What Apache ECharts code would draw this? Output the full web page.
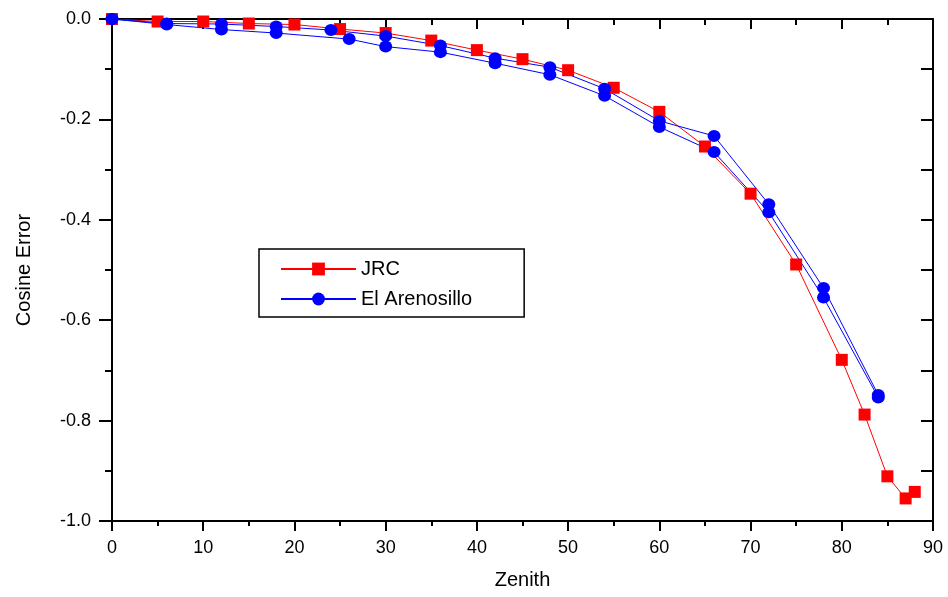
<!DOCTYPE html>
<html>
<head>
<meta charset="utf-8">
<script src="https://cdn.jsdelivr.net/npm/echarts@6/dist/echarts.min.js"></script>
<style>html,body{margin:0;padding:0;background:#fff}#c{width:948px;height:597px}</style>
</head>
<body>
<div id="c"></div>
<script>
// Data
const jrcZenith = [0, 5, 10, 15, 20, 25, 30, 35, 40, 45, 50, 55, 60, 65, 70, 75, 80, 82.5, 85, 87, 88];
const jrcError = [0, -0.005, -0.005, -0.009, -0.011, -0.020, -0.028, -0.043, -0.062, -0.080, -0.102, -0.137, -0.185, -0.254, -0.348, -0.489, -0.679, -0.788, -0.911, -0.955, -0.942];

const arenoAZenith = [0, 6, 12, 18, 24, 30, 36, 42, 48, 54, 60, 66, 72, 78, 84];
const arenoAError = [0, -0.009, -0.010, -0.015, -0.022, -0.034, -0.053, -0.078, -0.096, -0.139, -0.203, -0.233, -0.369, -0.536, -0.749];

const arenoBZenith = [0, 6, 12, 18, 26, 30, 36, 42, 48, 54, 60, 66, 72, 78, 84];
const arenoBError = [0, -0.011, -0.021, -0.028, -0.040, -0.055, -0.066, -0.088, -0.111, -0.153, -0.215, -0.265, -0.385, -0.555, -0.754];

const xTicks = [0, 10, 20, 30, 40, 50, 60, 70, 80, 90];
const yTicks = [0.0, -0.2, -0.4, -0.6, -0.8, -1.0];

const FONT = 'Liberation Sans, Arial, sans-serif';
const pairs = (xs, ys) => xs.map((x, i) => [x, ys[i]]);

const chart = echarts.init(document.getElementById('c'), null, {renderer: 'canvas'});
const axisLine = {show: true, onZero: false, lineStyle: {color: '#000', width: 2}};
const tickStyle = {color: '#000', width: 2};

chart.setOption({
  animation: false,
  backgroundColor: '#fff',
  grid: {left: 112, right: 15, top: 19, bottom: 76, containLabel: false},
  legend: {
    orient: 'vertical',
    left: 259, top: 249,
    padding: [10, 52, 8, 21],
    itemGap: 10,
    itemWidth: 75, itemHeight: 16,
    borderColor: '#000', borderWidth: 1.5,
    textStyle: {fontFamily: FONT, fontSize: 20, color: '#000', lineHeight: 20},
    data: ['JRC', 'El Arenosillo']
  },
  xAxis: [
    {
      type: 'value', position: 'bottom', min: xTicks[0], max: xTicks[xTicks.length - 1], interval: 10,
      axisLine: axisLine,
      axisTick: {show: true, inside: false, length: 10, lineStyle: tickStyle},
      minorTick: {show: true, splitNumber: 2, length: 5, lineStyle: tickStyle},
      splitLine: {show: false},
      axisLabel: {fontFamily: FONT, fontSize: 18, color: '#000', margin: 18},
      name: 'Zenith', nameLocation: 'middle', nameGap: 49,
      nameTextStyle: {fontFamily: FONT, fontSize: 20, color: '#000'}
    },
    {
      type: 'value', position: 'top', min: xTicks[0], max: xTicks[xTicks.length - 1], interval: 10,
      axisLine: axisLine,
      axisTick: {show: true, inside: true, length: 10, lineStyle: tickStyle},
      minorTick: {show: true, splitNumber: 2, length: 6, lineStyle: tickStyle},
      splitLine: {show: false},
      axisLabel: {show: false}
    }
  ],
  yAxis: [
    {
      type: 'value', position: 'left', min: -1, max: 0, interval: 0.2,
      axisLine: axisLine,
      axisTick: {show: true, inside: false, length: 13, lineStyle: tickStyle},
      minorTick: {show: true, splitNumber: 2, length: 7, lineStyle: tickStyle},
      splitLine: {show: false},
      axisLabel: {fontFamily: FONT, fontSize: 18, color: '#000', margin: 21,
        formatter: v => v.toFixed(1)},
      name: 'Cosine Error', nameLocation: 'middle', nameGap: 78, nameRotate: 90,
      nameTextStyle: {fontFamily: FONT, fontSize: 20, color: '#000'}
    },
    {
      type: 'value', position: 'right', min: -1, max: 0, interval: 0.2,
      axisLine: axisLine,
      axisTick: {show: true, inside: true, length: 12, lineStyle: tickStyle},
      minorTick: {show: true, splitNumber: 2, length: 12, lineStyle: tickStyle},
      splitLine: {show: false},
      axisLabel: {show: false}
    }
  ],
  series: [
    {
      name: 'JRC', type: 'line', xAxisIndex: 0, yAxisIndex: 0,
      data: pairs(jrcZenith, jrcError),
      symbol: 'rect', symbolSize: 12, showAllSymbol: true,
      lineStyle: {color: '#ff0000', width: 1},
      itemStyle: {color: '#ff0000'}
    },
    {
      name: 'El Arenosillo', type: 'line', xAxisIndex: 0, yAxisIndex: 0,
      data: pairs(arenoAZenith, arenoAError),
      symbol: 'circle', symbolSize: [13, 12], showAllSymbol: true,
      lineStyle: {color: '#0000ff', width: 1},
      itemStyle: {color: '#0000ff'}
    },
    {
      name: 'El Arenosillo', type: 'line', xAxisIndex: 0, yAxisIndex: 0,
      data: pairs(arenoBZenith, arenoBError),
      symbol: 'circle', symbolSize: [13, 12], showAllSymbol: true,
      lineStyle: {color: '#0000ff', width: 1},
      itemStyle: {color: '#0000ff'}
    }
  ]
});
</script>
</body>
</html>
